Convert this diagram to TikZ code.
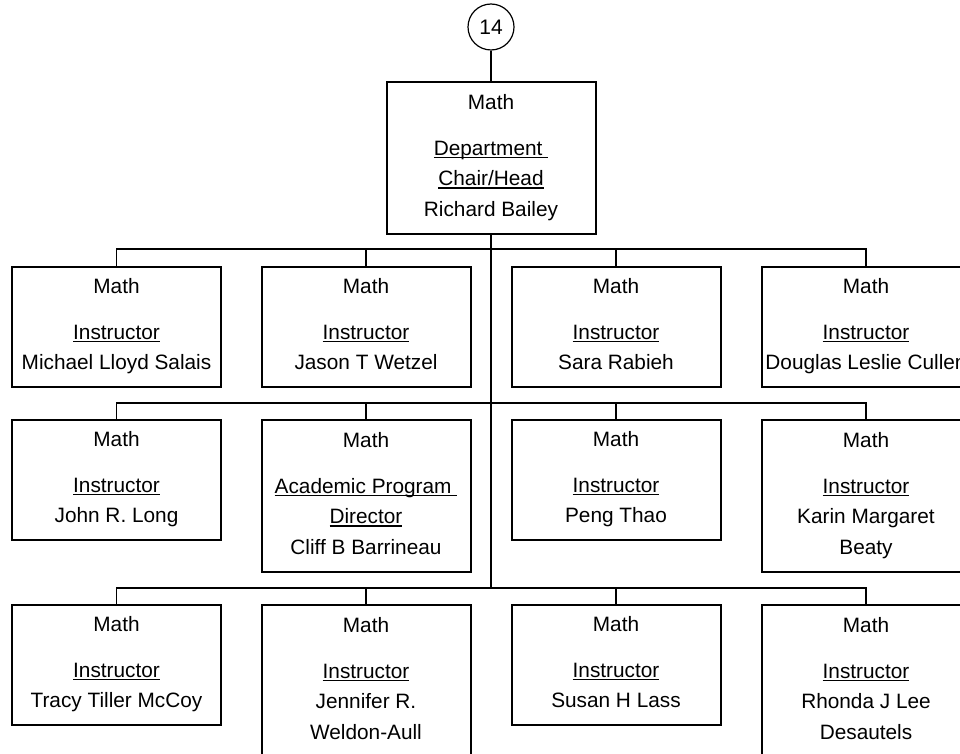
\documentclass[tikz,border=0pt]{standalone}
\usepackage{fontspec}
\setmainfont{Liberation Sans}
\newcommand\myul[1]{\setbox0\hbox{#1}\rlap{\rule[-3.2pt]{\wd0}{1.7pt}}\box0}
\newcommand\tstr{\rule{0pt}{21pt}}
\newcommand\bstr{\rule[-12pt]{0pt}{12pt}}
\tikzset{
  person/.style={draw=black, line width=2pt, minimum width=209pt, align=center,
    inner sep=0pt, font=\fontsize{20.8}{30.5}\selectfont, anchor=north},
  shortbox/.style={person, minimum height=120pt},
  tallbox/.style={person, minimum height=152pt},
  link/.style={draw=black, line width=1.6pt},
}
\begin{document}
\begin{tikzpicture}[x=1pt,y=-1pt]
\useasboundingbox (0,0) rectangle (960,754);
\clip (0,0) rectangle (960,754);
% page badge
\node[draw=black, line width=1.2pt, circle, minimum size=46pt, inner sep=0pt,
  font=\fontsize{21}{24}\selectfont] (badge) at (491,27) {14};
% head
\node[tallbox] (head) at (491,81) {\tstr Math\\[15.5pt]\myul{Department\ }\\\myul{Chair/Head}\\Richard Bailey\bstr};
% row 1
\node[shortbox] (r1a) at (116.5,266) {\tstr Math\\[15.5pt]\myul{Instructor}\\Michael Lloyd Salais\bstr};
\node[shortbox] (r1b) at (366,266) {\tstr Math\\[15.5pt]\myul{Instructor}\\Jason T Wetzel\bstr};
\node[shortbox] (r1c) at (616,266) {\tstr Math\\[15.5pt]\myul{Instructor}\\Sara Rabieh\bstr};
\node[shortbox] (r1d) at (866,266) {\tstr Math\\[15.5pt]\myul{Instructor}\\Douglas Leslie Cullen\bstr};
% row 2
\node[shortbox] (r2a) at (116.5,419) {\tstr Math\\[15.5pt]\myul{Instructor}\\John R. Long\bstr};
\node[tallbox] (r2b) at (366,419) {\tstr Math\\[15.5pt]\myul{Academic Program\ }\\\myul{Director}\\Cliff B Barrineau\bstr};
\node[shortbox] (r2c) at (616,419) {\tstr Math\\[15.5pt]\myul{Instructor}\\Peng Thao\bstr};
\node[tallbox] (r2d) at (866,419) {\tstr Math\\[15.5pt]\myul{Instructor}\\Karin Margaret\\Beaty\bstr};
% row 3
\node[shortbox] (r3a) at (116.5,604) {\tstr Math\\[15.5pt]\myul{Instructor}\\Tracy Tiller McCoy\bstr};
\node[tallbox] (r3b) at (366,604) {\tstr Math\\[15.5pt]\myul{Instructor}\\Jennifer R.\\Weldon-Aull\bstr};
\node[shortbox] (r3c) at (616,604) {\tstr Math\\[15.5pt]\myul{Instructor}\\Susan H Lass\bstr};
\node[tallbox] (r3d) at (866,604) {\tstr Math\\[15.5pt]\myul{Instructor}\\Rhonda J Lee\\Desautels\bstr};
% bus coordinates
\coordinate (j1) at (491,249);
\coordinate (j2) at (491,403);
\coordinate (j3) at (491,588);
% connectors
\draw[link] (badge.south) -- (head.north);
\draw[link] (head.south) -- (j3);
\foreach \r/\y in {1/249, 2/403, 3/588} {
  \draw[link] (r\r a.north) -- (r\r a.north |- 0,\y) -- (r\r d.north |- 0,\y) -- (r\r d.north);
  \draw[link] (r\r b.north) -- (r\r b.north |- 0,\y);
  \draw[link] (r\r c.north) -- (r\r c.north |- 0,\y);
}
\end{tikzpicture}
\end{document}
